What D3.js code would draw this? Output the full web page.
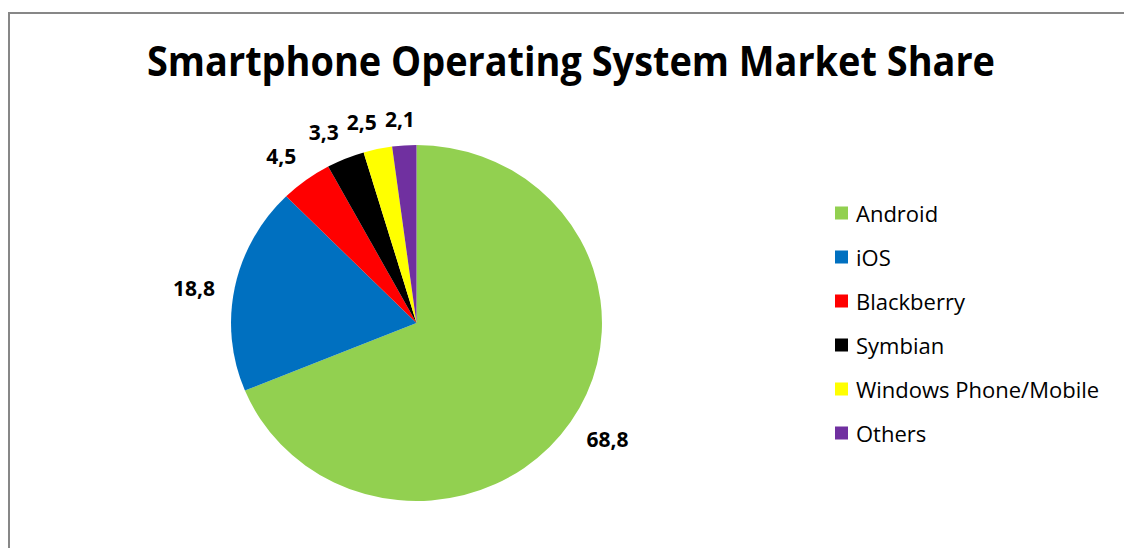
<!DOCTYPE html>
<html>
<head>
<meta charset="utf-8">
<script src="https://cdn.jsdelivr.net/npm/d3@7"></script>
<style>
  html, body { margin: 0; background: #fff; overflow: hidden; }
  svg { display: block; }
</style>
</head>
<body>
<script>
// chart data
var categories = ["Android", "iOS", "Blackberry", "Symbian", "Windows Phone/Mobile", "Others"];
var shares = [68.8, 18.8, 4.5, 3.3, 2.5, 2.1];
var shareLabels = ["68,8", "18,8", "4,5", "3,3", "2,5", "2,1"];
var colors = ["#92D050", "#0070C0", "#FF0000", "#000000", "#FFFF00", "#7030A0"];

var w = 1124;
var h = 548;

var cx = 416.5, cy = 323;
var r = 178;
var sx = 1.042; // the pie is a bit wider than tall

var svg = d3.select("body")
    .append("svg")
    .attr("width", w)
    .attr("height", h);

// outer frame (runs off the right and bottom)
svg.append("path")
    .attr("d", "M9," + (h + 10) + "V13H" + (w + 10))
    .attr("fill", "none")
    .attr("stroke", "#878787")
    .attr("stroke-width", 2);

// title
svg.append("text")
    .attr("x", 571)
    .attr("y", 76)
    .attr("text-anchor", "middle")
    .attr("font-family", "'Open Sans', sans-serif")
    .attr("font-weight", "bold")
    .attr("font-size", "42px")
    .attr("textLength", 848)
    .attr("lengthAdjust", "spacingAndGlyphs")
    .text("Smartphone Operating System Market Share");

var data = categories.map(function (c, i) {
    return { name: c, value: shares[i], label: shareLabels[i], color: colors[i] };
});

var pie = d3.pie()
    .sort(null)
    .value(d => d.value);

var arc = d3.arc()
    .innerRadius(0)
    .outerRadius(r);

var arcs = pie(data);

var pieG = svg.append("g")
    .attr("transform", "translate(" + cx + "," + cy + ") scale(" + sx + ",1)");

pieG.selectAll("path")
    .data(arcs)
    .enter()
    .append("path")
    .attr("d", arc)
    .attr("fill", d => d.data.color);

// data labels, placed just outside the edge near each slice's middle angle
var labelG = svg.append("g")
    .attr("transform", "translate(" + cx + "," + cy + ")");

var skew = -2.5 * Math.PI / 180; // excel sets them a touch counter-clockwise

var labels = labelG.selectAll("text")
    .data(arcs)
    .enter()
    .append("text")
    .text(d => d.data.label)
    .attr("font-family", "'Open Sans', sans-serif")
    .attr("font-weight", "bold")
    .attr("font-size", "21px")
    .attr("text-anchor", "middle")
    .attr("dominant-baseline", "central")
    .each(function (d) {
        var a = (d.startAngle + d.endAngle) / 2 + skew;
        var ux = Math.sin(a), uy = -Math.cos(a);
        d.hw = this.getComputedTextLength() / 2;
        var ext = Math.abs(ux) * d.hw + Math.abs(uy) * 8;
        var edge = r * Math.sqrt(sx * sx * ux * ux + uy * uy);
        var dist = edge + 18 + ext;
        d.lx = ux * dist;
        d.ly = uy * dist;
    });

// push crowded neighbours apart sideways
for (var it = 0; it < 20; it++) {
    for (var i = 0; i < arcs.length - 1; i++) {
        var p = arcs[i], q = arcs[i + 1];
        if (Math.abs(p.ly - q.ly) > 18) continue;
        var need = p.hw + q.hw + 8;
        var dx = q.lx - p.lx;
        if (Math.abs(dx) < need) {
            var s = dx >= 0 ? 1 : -1;
            var push = (need - Math.abs(dx)) / 2;
            p.lx -= s * push;
            q.lx += s * push;
        }
    }
}

labels
    .attr("x", d => d.lx)
    .attr("y", d => d.ly);

// legend
var legend = svg.append("g")
    .attr("transform", "translate(835,213)");

var rows = legend.selectAll("g")
    .data(data)
    .enter()
    .append("g")
    .attr("transform", (d, i) => "translate(0," + i * 44 + ")");

rows.append("rect")
    .attr("x", 0)
    .attr("y", -6.5)
    .attr("width", 13)
    .attr("height", 13)
    .attr("fill", d => d.color);

rows.append("text")
    .attr("x", 21)
    .attr("y", 0)
    .attr("dominant-baseline", "central")
    .attr("font-family", "'Open Sans', sans-serif")
    .attr("font-size", "22px")
    .attr("fill", "#000")
    .text(d => d.name);
</script>
</body>
</html>
